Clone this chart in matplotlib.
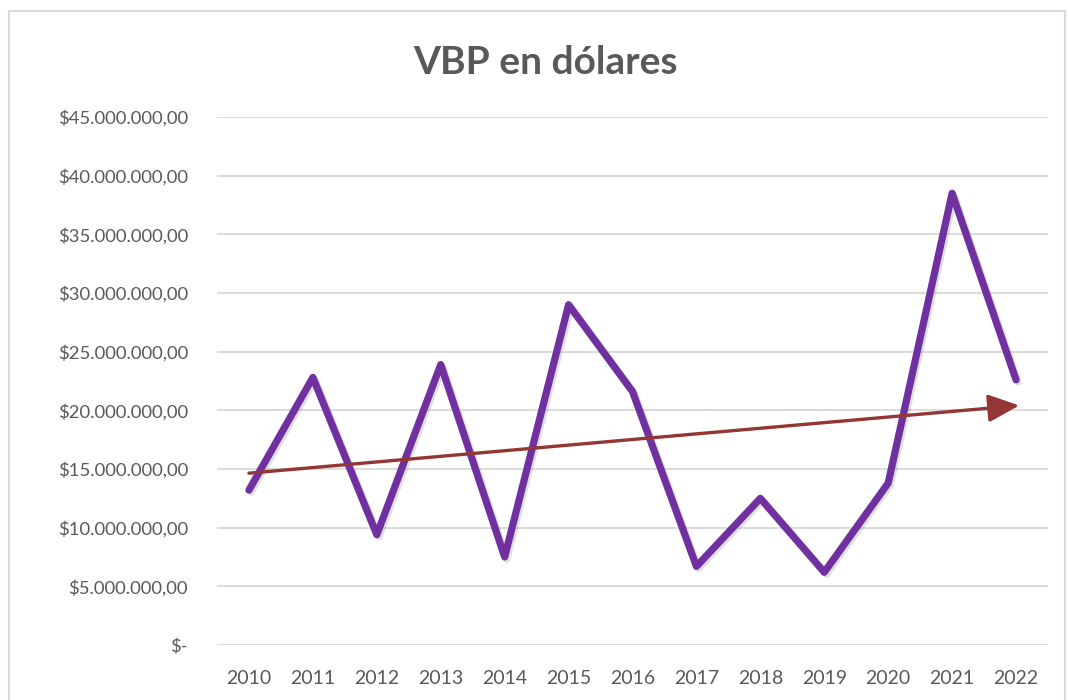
import numpy as np
import matplotlib
matplotlib.use("Agg")
import matplotlib.pyplot as plt
import matplotlib.patheffects as pe
from matplotlib.patches import Rectangle

years = ["2010", "2011", "2012", "2013", "2014", "2015", "2016",
         "2017", "2018", "2019", "2020", "2021", "2022"]
vbp_musd = [13.2, 22.8, 9.4, 23.9, 7.5, 29.0, 21.6,
            6.7, 12.5, 6.2, 13.8, 38.5, 22.6]
y_ticks = [0, 5, 10, 15, 20, 25, 30, 35, 40, 45]
y_labels = ["$-", "$5.000.000,00", "$10.000.000,00", "$15.000.000,00",
            "$20.000.000,00", "$25.000.000,00", "$30.000.000,00",
            "$35.000.000,00", "$40.000.000,00", "$45.000.000,00"]

plt.rcParams['font.family'] = ['Lato', 'DejaVu Sans']
txt = '#595959'

fig = plt.figure(figsize=(10.68, 7), dpi=100)
ax = fig.add_axes([217 / 1068, 1 - 645 / 700, (1048 - 217) / 1068, (645 - 117) / 700])

# marco del gráfico
fig.patches.append(Rectangle((9 / 1068, -0.02), 1056 / 1068, 1 - 11 / 700 + 0.02,
                             transform=fig.transFigure, fill=False,
                             edgecolor='#D9D9D9', linewidth=1.5))

x = np.arange(len(years))
ax.plot(x, vbp_musd, color='#7030A0', linewidth=5.2, solid_capstyle='round',
        solid_joinstyle='round', zorder=3,
        path_effects=[pe.SimpleLineShadow(offset=(1.5, -1.5), alpha=0.25, shadow_color='gray'),
                      pe.Normal()])

# línea de tendencia
m, b = np.polyfit(x, vbp_musd, 1)
ax.annotate('', xy=(x[-1] + 0.05, m * (x[-1] + 0.05) + b), xytext=(x[0], m * x[0] + b),
            arrowprops=dict(arrowstyle='-|>,head_length=1.9,head_width=0.85',
                            mutation_scale=10, color='#943634', lw=2.4,
                            shrinkA=0, shrinkB=0),
            zorder=4)

ax.set_xlim(-0.5, len(years) - 0.5)
ax.set_ylim(0, 45)
ax.set_xticks(x)
ax.set_xticklabels(years)
ax.set_yticks(y_ticks)
ax.set_yticklabels(y_labels)
ax.tick_params(axis='both', length=0, colors=txt)
ax.tick_params(axis='y', pad=21, labelsize=13.3)
ax.tick_params(axis='x', pad=18, labelsize=14)
ax.grid(axis='y', color='#D9D9D9', linewidth=1.3)
ax.set_axisbelow(True)
for s in ax.spines.values():
    s.set_visible(False)

fig.text(545 / 1068, 1 - 62 / 700, 'VBP en dólares', ha='center', va='center',
         fontsize=28, fontweight='bold', color=txt)

fig.savefig('out.png', dpi=100)
